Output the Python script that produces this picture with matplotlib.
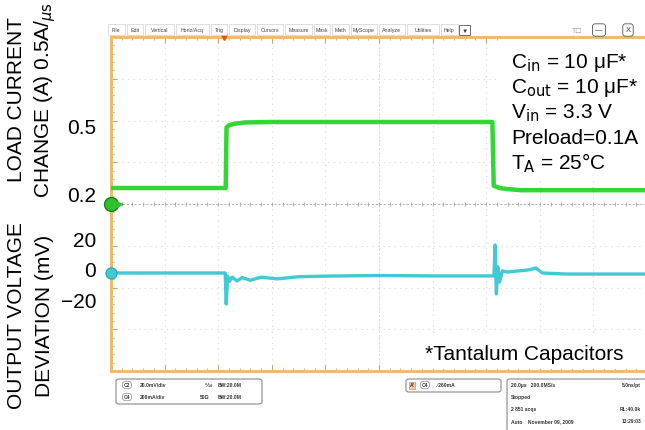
import numpy as np
import matplotlib.pyplot as plt
from matplotlib.patches import Rectangle, FancyBboxPatch

plt.rcParams['font.family'] = ['Liberation Sans', 'DejaVu Sans']

# load current trace (time in us, current in A)
t_cur = [0, 42.8, 43.1, 44.0, 46, 50, 60, 100, 142.3, 142.8, 145, 148, 153, 170, 200]
i_cur = [0.2, 0.2, 0.475, 0.485, 0.492, 0.498, 0.5, 0.5, 0.5, 0.21, 0.2, 0.195, 0.19, 0.19, 0.19]

# output voltage deviation trace (time in us, mV)
t_vout = [0, 42.6, 43.0, 43.5, 44.2, 45.2, 47, 49, 52, 56, 62, 70, 80, 100, 120, 142.9,
          143.3, 143.8, 144.3, 145.0, 146.0, 148, 152, 156, 158.5, 161, 170, 200]
v_out = [0, 0, -14.9, -1.5, -4.0, -2.0, -3.8, -2.2, -3.5, -2.0, -2.8, -1.8, -1.5, -1.2, -1.4, -1.4,
         13.4, -10.0, 3.0, -4.3, 1.0, 0.5, 1.0, 1.5, 2.4, 0.0, -0.5, -0.5]

left_labels_cur = ['0.5', '0.2']
left_labels_v = ['20', '0', '\u221220']

menu_items = ['File', 'Edit', 'Vertical', 'Horiz/Acq', 'Trig', 'Display', 'Cursors',
              'Measure', 'Mask', 'Math', 'MyScope', 'Analyze', 'Utilities', 'Help']

cond_lines = ['C$_{\\mathrm{in}}$ = 10 \u03bcF*', 'C$_{\\mathrm{out}}$ = 10 \u03bcF*',
              'V$_{\\mathrm{in}}$ = 3.3 V', 'Preload=0.1A', 'T$_{\\mathrm{A}}$ = 25\u00b0C']

W, H = 645, 431
def fx(px):
    return px / W
def fy(py):
    return 1 - py / H

green = '#33d633'
cyan = '#40cad6'
orange = '#e9bd72'

fig = plt.figure(figsize=(6.45, 4.31), dpi=100)
pos = [fx(111), fy(372), 536 / W, 334 / H]

# grid axes, in divisions
ax = fig.add_axes(pos)
ax.set_xlim(0, 10)
ax.set_ylim(-4, 4)
for k in range(1, 10):
    ax.axvline(k, color='#d6d6d6', lw=0.8, ls=(0, (1, 4)), zorder=1)
for k in range(-3, 4):
    ax.axhline(k, color='#d6d6d6', lw=0.8, ls=(0, (1, 4)), zorder=1)
ax.axhline(0, color='#b0b0b0', lw=0.7, ls=(0, (2, 2)), zorder=1)
ax.axvline(5, color='#dadada', lw=0.7, ls=(0, (2, 2)), zorder=1)
minor = np.arange(0, 10.01, 0.2)
ax.plot(minor, np.zeros_like(minor), ls='none', marker='|', ms=3, color='#a8a8a8', mew=0.6)
for s in ['top', 'left', 'bottom']:
    ax.spines[s].set_color(orange)
    ax.spines[s].set_linewidth(2.2)
ax.spines['right'].set_visible(False)
ax.set_xticks(range(0, 11))
ax.set_xticks(np.arange(0, 10, 0.2), minor=True)
ax.set_yticks(range(-4, 5))
ax.set_yticks(np.arange(-4, 4, 0.2), minor=True)
ax.tick_params(which='both', direction='in', color='#cda86a', labelleft=False,
               labelbottom=False, top=True, right=False)
ax.tick_params(which='major', length=4, width=0.8)
ax.tick_params(which='minor', length=2, width=0.6)

# current trace axes
ax_i = fig.add_axes(pos)
ax_i.set_xlim(0, 200)
ax_i.set_ylim(0.2 - (372 - 189) / 220, 0.2 + (189 - 38) / 220)
ax_i.axis('off')
ax_i.plot(t_cur, i_cur, color=green, lw=3.2, solid_joinstyle='round')

# voltage trace axes
ax_v = fig.add_axes(pos)
ax_v.set_xlim(0, 200)
ax_v.set_ylim(-(372 - 274) / 2.0875, (274 - 38) / 2.0875)
ax_v.axis('off')
ax_v.plot(t_vout, v_out, color=cyan, lw=2.4, solid_joinstyle='round')

# channel markers
ax.plot([0], [0], marker='o', ms=10, color='#2fbf2f', mec='#1a7f1a', mew=1, clip_on=False, zorder=5)
ax.plot([0.15], [0], marker='>', ms=4, color='#2fbf2f', clip_on=False, zorder=5)
ax_v.plot([0], [0], marker='o', ms=8, color=cyan, mec='#2aa0aa', mew=0.8, clip_on=False, zorder=5)
ax.plot([(224 - 111) / 53.6], [4], marker='v', ms=4, color='#e05030', clip_on=False, zorder=5)

# left labels
fig.text(fx(17), fy(100), 'LOAD CURRENT', rotation=90, ha='center', va='center', fontsize=15)
fig.text(fx(45), fy(100), r'CHANGE (A) 0.5A/$_{\mu\mathrm{s}}$', rotation=90, ha='center',
         va='center', fontsize=15)
fig.text(fx(17), fy(316), 'OUTPUT VOLTAGE', rotation=90, ha='center', va='center', fontsize=15)
fig.text(fx(45), fy(316), 'DEVIATION (mV)', rotation=90, ha='center', va='center', fontsize=15)
for lab, py in zip(left_labels_cur, [128, 197]):
    fig.text(fx(96), fy(py), lab, ha='right', va='center', fontsize=15)
for lab, py in zip(left_labels_v, [242, 272, 302]):
    fig.text(fx(96), fy(py), lab, ha='right', va='center', fontsize=15)

# condition box
fig.patches.append(Rectangle((fx(498), fy(182)), fx(645) - fx(498), fy(40) - fy(182),
                             transform=fig.transFigure, facecolor='white', edgecolor='none'))
for k, s in enumerate(cond_lines):
    fig.text(fx(511), fy(63 + 25 * k), s, ha='left', va='center', fontsize=15)

fig.patches.append(Rectangle((fx(415), fy(370)), fx(640) - fx(415), fy(336) - fy(370),
                             transform=fig.transFigure, facecolor='white', edgecolor='none'))
fig.text(fx(524), fy(355), '*Tantalum Capacitors', ha='center', va='center', fontsize=15)

# scope menu bar
x0 = 107
for s in menu_items:
    w = 3.15 * len(s) + 6
    fig.patches.append(Rectangle((fx(x0 + 1), fy(36)), w / W - 2 / W, 11 / H,
                                 transform=fig.transFigure, fc='white', ec='#c4c4c4', lw=0.4))
    fig.text(fx(x0 + w / 2), fy(30.5), s, ha='center', va='center', fontsize=3.8, color='#444444')
    x0 += w
fig.text(fx(x0 + 6), fy(31), '\u25bc', ha='center', va='center', fontsize=4.5, color='#333333',
         bbox=dict(boxstyle='square,pad=0.4', fc='white', ec='#555555', lw=0.6))
fig.text(fx(577), fy(31), 'T\u2610', ha='center', va='center', fontsize=5, color='#999999')
for s, px in [('\u2014', 599), ('X', 628)]:
    fig.text(fx(px), fy(31), s, ha='center', va='center', fontsize=5.5, color='#333333',
             bbox=dict(boxstyle='round,pad=0.35', fc='white', ec='#555555', lw=0.6))

# status boxes
def status_box(x0, y0, x1, y1):
    fig.patches.append(FancyBboxPatch((fx(x0), fy(y1)), fx(x1) - fx(x0), fy(y0) - fy(y1),
                                      boxstyle='round,pad=0,rounding_size=0.005',
                                      transform=fig.transFigure, fc='white', ec='#8a8a8a', lw=0.8))

status_box(116, 380, 262, 405)
status_box(406, 380, 501, 393)
status_box(507, 380, 650, 433)

oval = dict(boxstyle='round,pad=0.25,rounding_size=0.6', fc='white', ec='#888888', lw=0.5)
st = dict(fontsize=3.6, color='#333333', va='center', fontweight='bold')
fig.text(fx(127), fy(386), 'C2', ha='center', bbox=oval, **st)
fig.text(fx(140), fy(386), '20.0mV/div', ha='left', **st)
fig.text(fx(205), fy(386), '\u2152', ha='left', **st)
fig.text(fx(218), fy(386), 'BW:20.0M', ha='left', **st)
fig.text(fx(127), fy(398), 'C4', ha='center', bbox=oval, **st)
fig.text(fx(140), fy(398), '200mA/div', ha='left', **st)
fig.text(fx(200), fy(398), '50\u03a9', ha='left', **st)
fig.text(fx(218), fy(398), 'BW:20.0M', ha='left', **st)

fig.text(fx(412), fy(386), "A'", ha='center',
         bbox=dict(boxstyle='square,pad=0.2', fc='#f3c7a0', ec='#c08050', lw=0.4), **st)
fig.text(fx(425), fy(386), 'C4', ha='center', bbox=oval, **st)
fig.text(fx(437), fy(386), '\u2215 260mA', ha='left', **st)

fig.text(fx(511), fy(386), '20.0\u00b5s   200.0MS/s', ha='left', **st)
fig.text(fx(641), fy(386), '5.0ns/pt', ha='right', **st)
fig.text(fx(511), fy(398), 'Stopped', ha='left', **st)
fig.text(fx(511), fy(410), '2 851 acqs', ha='left', **st)
fig.text(fx(641), fy(410), 'RL:40.0k', ha='right', **st)
fig.text(fx(511), fy(422), 'Auto    November 09, 2009', ha='left', **st)
fig.text(fx(641), fy(422), '13:29:03', ha='right', **st)

plt.savefig('out.png', dpi=100)
